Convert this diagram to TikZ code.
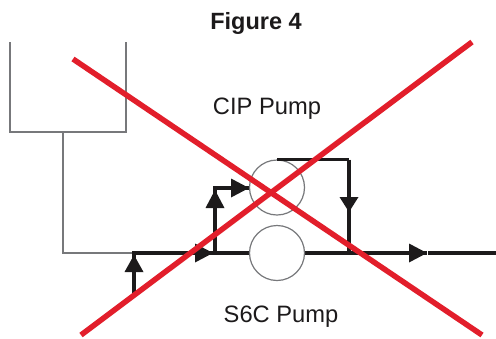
\documentclass[tikz,border=0pt]{standalone}
\usepackage{fontspec}
\setmainfont{Liberation Sans}
\definecolor{cross}{HTML}{E21E2B}
\definecolor{pipe}{HTML}{1C1A1B}
\definecolor{thin}{HTML}{77787B}
\tikzset{
 x=1pt,y=-1pt,
 pump/.style={circle,draw=thin,line width=1.2pt,minimum size=55pt,inner sep=0pt,fill=white},
 pipeline/.style={draw=pipe,line width=3.2pt},
 thinline/.style={draw=thin,line width=1.3pt},
 crossline/.style={draw=cross,line width=5.5pt},
 head/.style={fill=pipe,draw=none},
 label/.style={inner sep=0pt,anchor=base,text=pipe,font=\fontsize{23.7pt}{26pt}\selectfont}
}
\begin{document}
\begin{tikzpicture}
\useasboundingbox (0,0) rectangle (496,338);
\fill[white] (0,0) rectangle (496,338);
\node[label,font=\bfseries\fontsize{23.5pt}{26pt}\selectfont] (title) at (256,29) {Figure 4};
\node[label] (cip) at (267,114) {CIP Pump};
\node[label] (s6c) at (281,322) {S6C Pump};
\coordinate (tl) at (10,42);
\coordinate (bl) at (10,132);
\coordinate (br) at (126,132);
\coordinate (tr) at (126,42);
\coordinate (stem) at (63,132);
\coordinate (elbow) at (63,253);
\coordinate (j1) at (134,253);
\coordinate (feed) at (134,293);
\coordinate (j2) at (215,253);
\coordinate (j3) at (215,188);
\coordinate (t1) at (277,159.5);
\coordinate (t2) at (349,159.5);
\coordinate (j4) at (349,253);
\coordinate (a1) at (213,253);
\coordinate (a2) at (349,212);
\coordinate (a3) at (427,253);
\coordinate (a4) at (134,255);
\coordinate (a5) at (215,190);
\coordinate (a6) at (249,188);
\coordinate (out1) at (428,253);
\coordinate (out2) at (496,253);
\draw[thinline] (tl) -- (bl) -- (br) -- (tr);
\draw[thinline] (stem) -- (elbow) -- (j1);
\draw[pipeline] (feed) -- (j1) -- (250,253);
\draw[pipeline] (304,253) -- (a3);
\draw[pipeline] (out1) -- (out2);
\draw[pipeline] (j2) -- (j3) -- (a6);
\draw[pipeline] (t2) -- (j4);
\node[pump] (upper) at (277,187.5) {};
\node[pump] (lower) at (277,253) {};
\draw[pipeline] (t1) -- (t2);
\fill[head] (a1) -- ++(-18,-9.5) -- ++(0,19) -- cycle;
\fill[head] (a2) -- ++(-9.5,-15) -- ++(19,0) -- cycle;
\fill[head] (a3) -- ++(-18,-9.5) -- ++(0,19) -- cycle;
\fill[head] (a4) -- ++(-9.5,17) -- ++(19,0) -- cycle;
\fill[head] (a5) -- ++(-9.5,18) -- ++(19,0) -- cycle;
\fill[head] (a6) -- ++(-18,-9.5) -- ++(0,19) -- cycle;
\coordinate (c1) at (73,59);
\coordinate (c2) at (482,335);
\coordinate (c3) at (81,335);
\coordinate (c4) at (472,42);
\draw[crossline] (c1) -- (c2);
\draw[crossline] (c3) -- (c4);
\end{tikzpicture}
\end{document}
